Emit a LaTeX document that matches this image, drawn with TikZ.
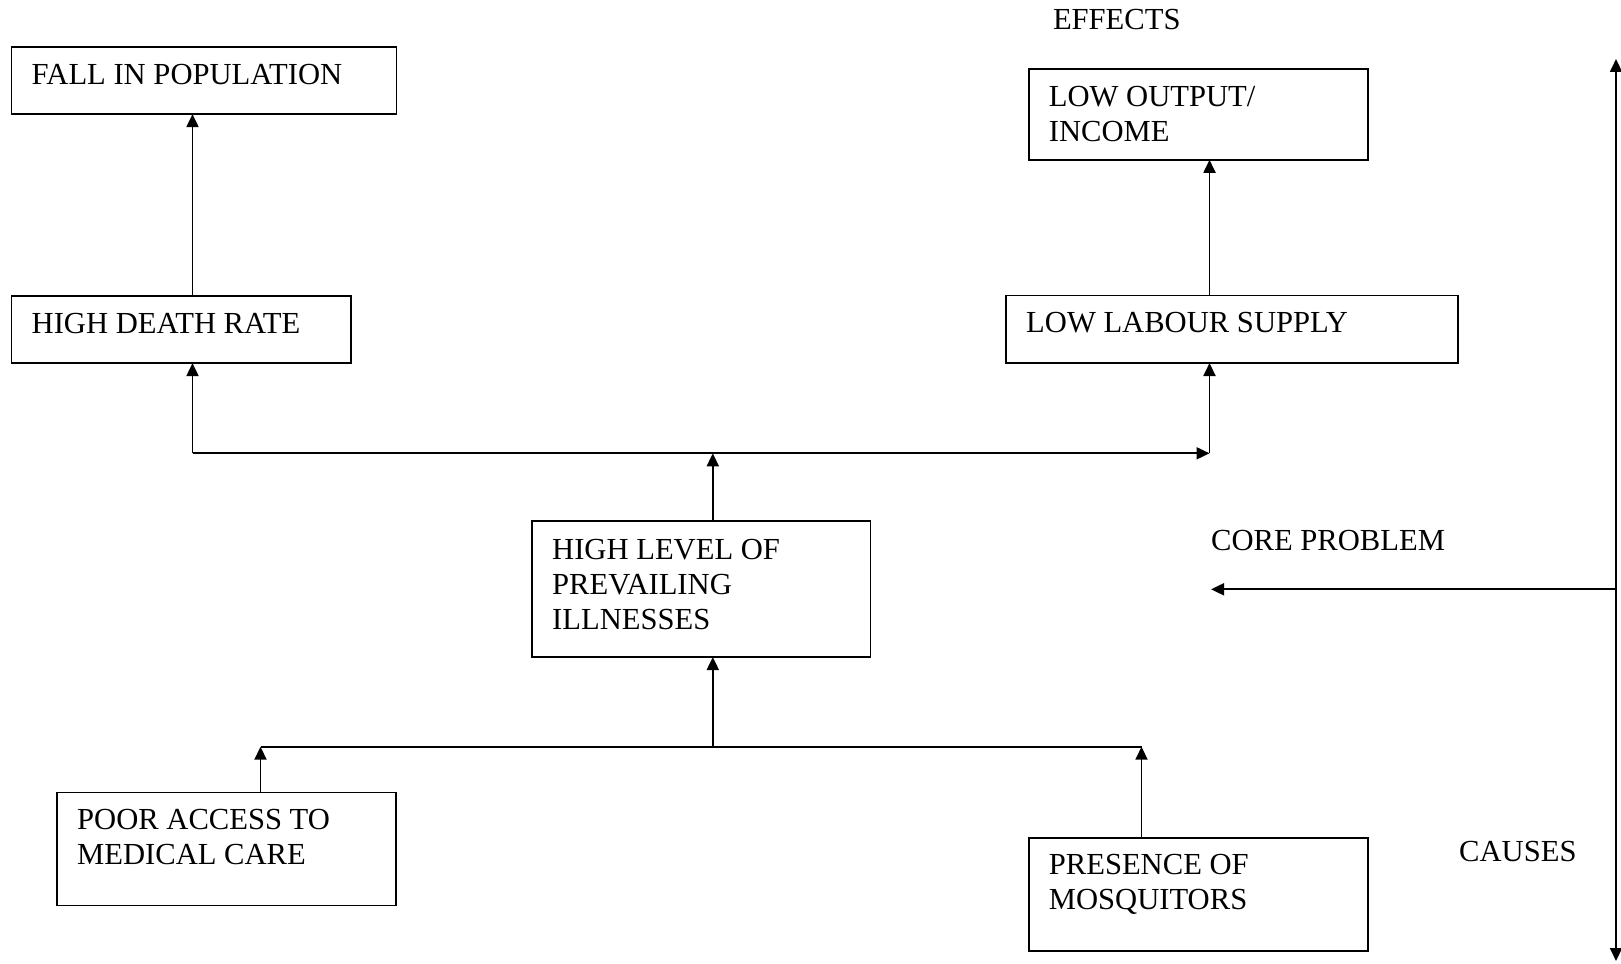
\documentclass[tikz,border=0pt]{standalone}
\usepackage{fontspec}
\setmainfont{Liberation Serif}
\usetikzlibrary{arrows.meta}
\begin{document}
\begin{tikzpicture}[x=1pt,y=-1pt,
  box/.style={draw, line width=1.9pt, inner sep=0pt, outer sep=0pt, anchor=north west},
  lbl/.style={inner sep=0pt, anchor=base west, font=\fontsize{30.6}{35.3}\selectfont},
  arr/.style={line width=1.9pt, -{Triangle[length=13pt,width=12pt]}},
  arrboth/.style={line width=1.9pt, {Triangle[length=13pt,width=12pt]}-{Triangle[length=13pt,width=12pt]}},
  plain/.style={line width=1.9pt}]
\useasboundingbox[fill=white] (0,0) rectangle (1621,963);

% boxes
\node[box, minimum width=385pt, minimum height=67.5pt] (fall) at (11.5,46.6) {};
\node[box, minimum width=339.5pt, minimum height=67.5pt] (death) at (11.5,295.6) {};
\node[box, minimum width=339.5pt, minimum height=90.5pt] (output) at (1028.7,69.3) {};
\node[box, minimum width=452pt, minimum height=67.5pt] (labour) at (1006,295.5) {};
\node[box, minimum width=338.5pt, minimum height=136pt] (illness) at (532,521) {};
\node[box, minimum width=339pt, minimum height=113pt] (poor) at (57,792.5) {};
\node[box, minimum width=339pt, minimum height=113pt] (mosq) at (1028.7,837.6) {};

% box texts
\node[lbl] (tfall) at ([shift={(20,37.5)}]fall.north west) {FALL IN POPULATION};
\node[lbl] (tdeath) at ([shift={(20,37.5)}]death.north west) {HIGH DEATH RATE};
\node[lbl] (toutput) at ([shift={(20,37)}]output.north west) {\vtop{\hbox{LOW OUTPUT/}\hbox{INCOME}}};
\node[lbl] (tlabour) at ([shift={(20,37)}]labour.north west) {LOW LABOUR SUPPLY};
\node[lbl] (tillness) at ([shift={(20,38)}]illness.north west) {\vtop{\hbox{HIGH LEVEL OF}\hbox{PREVAILING}\hbox{ILLNESSES}}};
\node[lbl] (tpoor) at ([shift={(20,37)}]poor.north west) {\vtop{\hbox{POOR ACCESS TO}\hbox{MEDICAL CARE}}};
\node[lbl] (tmosq) at ([shift={(20,37)}]mosq.north west) {\vtop{\hbox{PRESENCE OF}\hbox{MOSQUITORS}}};

% side labels
\node[lbl] (effects) at (1052.8,29.5) {EFFECTS};
\node[lbl] (core) at (1211,550.5) {CORE PROBLEM};
\node[lbl] (causes) at (1459,861.5) {CAUSES};

% junction coordinates
\coordinate (jl) at (192.5,453.3);
\coordinate (jm) at (712.8,453.3);
\coordinate (jr) at (1209.5,453.3);
\coordinate (bl) at (260.5,746.7);
\coordinate (bm) at (712.8,746.7);
\coordinate (br) at (1141.5,746.7);

% upper connectors
\draw[arr] (death.north -| jl) -- (fall.south -| jl);
\draw[arr] (labour.north -| jr) -- (output.south -| jr);
\draw[arr] (jl) -- (jr);
\draw[arr] (jl) -- (death.south -| jl);
\draw[arr] (jr) -- (labour.south -| jr);
\draw[arr] (illness.north -| jm) -- (jm);

% lower connectors
\draw[plain] (bl) -- (br);
\draw[arr] (bm) -- (illness.south -| bm);
\draw[arr] (poor.north -| bl) -- (bl);
\draw[arr] (mosq.north -| br) -- (br);

% right axis
\coordinate (atop) at (1616,59);
\coordinate (abot) at (1616,961);
\coordinate (amid) at (1616,589.3);
\coordinate (ctip) at (1211,589.3);
\draw[arrboth] (atop) -- (abot);
\draw[arr] (amid) -- (ctip);
\end{tikzpicture}
\end{document}
